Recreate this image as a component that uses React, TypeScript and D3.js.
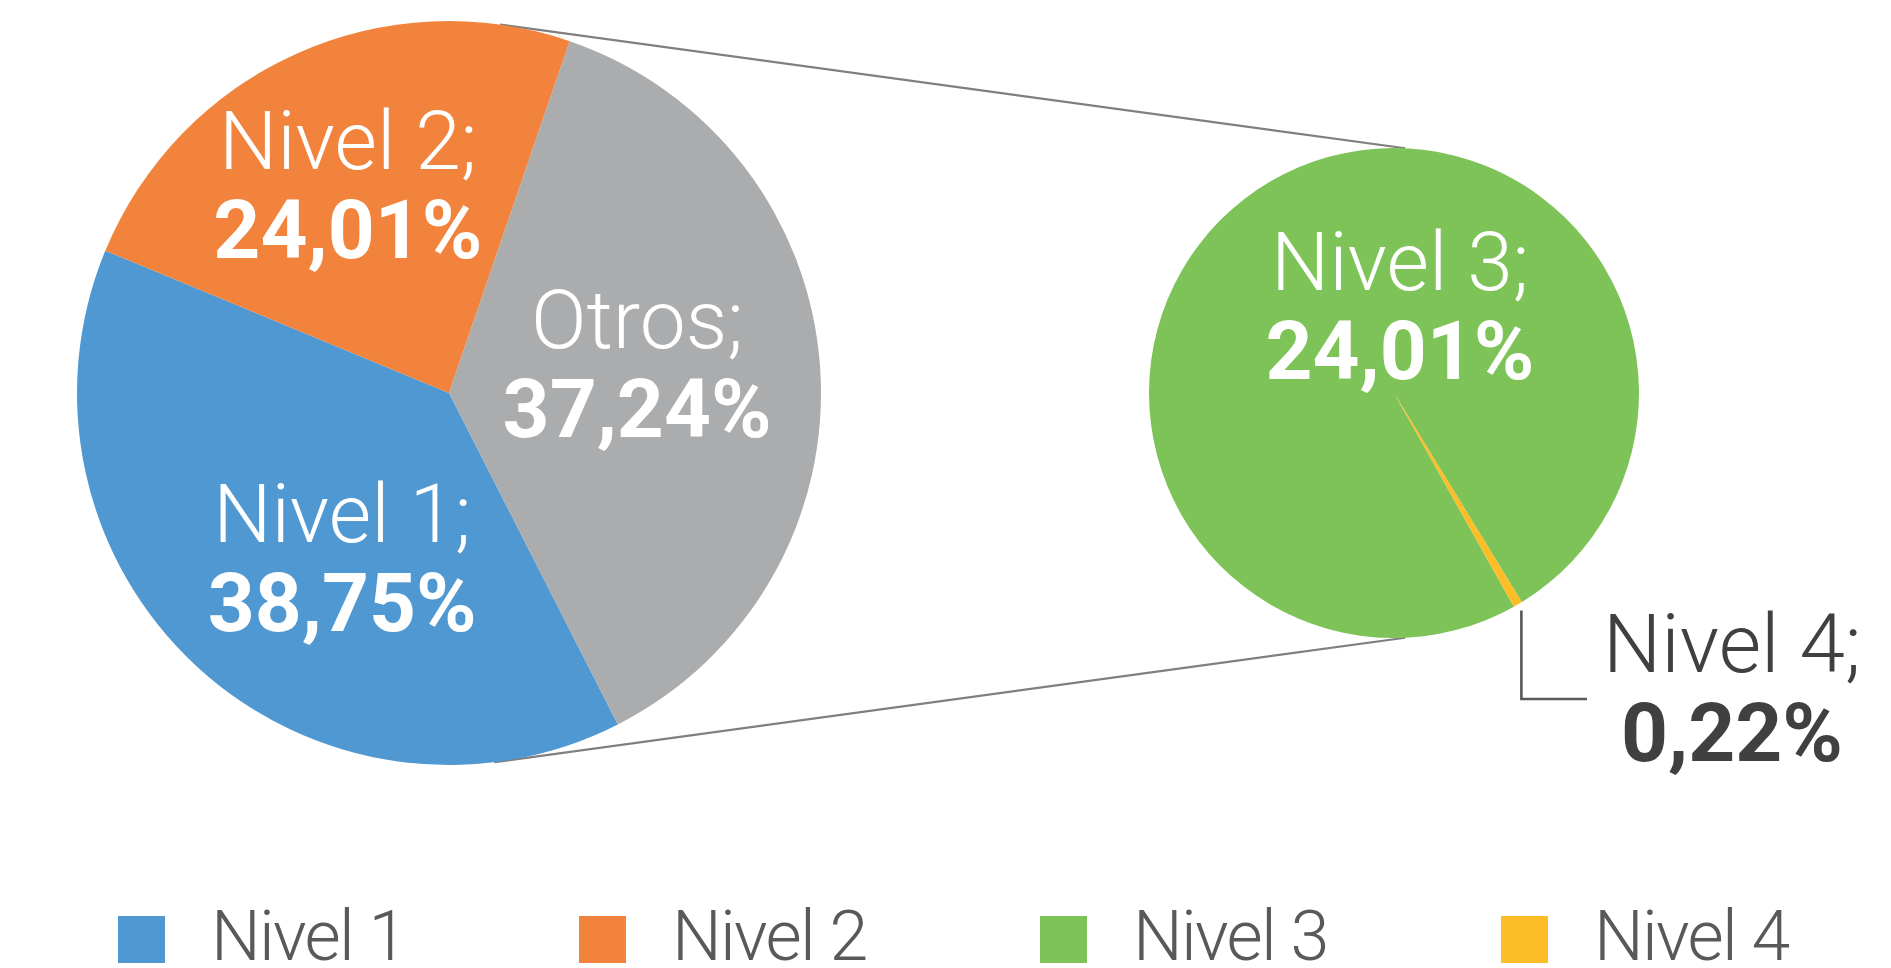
import React from 'react';
import * as d3 from 'd3';

// main pie (left)
const mainNames = ['Nivel 1', 'Nivel 2', 'Otros'];
const mainValues = [38.75, 24.01, 37.24];
const mainLabels = ['38,75%', '24,01%', '37,24%'];

// secondary pie (right) - slice sizes, labels as printed
const subNames = ['Nivel 3', 'Nivel 4'];
const subValues = [37.02, 0.22];
const subLabels = ['24,01%', '0,22%'];

const legendNames = ['Nivel 1', 'Nivel 2', 'Nivel 3', 'Nivel 4'];

const colors: Record<string, string> = {
  'Nivel 1': '#5098d2',
  'Nivel 2': '#f1833c',
  Otros: '#abacad',
  'Nivel 3': '#7dc357',
  'Nivel 4': '#fdbd27',
};

const W = 1891;
const H = 968;
const deg = Math.PI / 180;

const main = { cx: 449, cy: 393, r: 372 };
const sub = { cx: 1394, cy: 393, r: 245 };

// label nudges from the arc centroid
const mainNudge = [[32, 14], [-17, -23], [-16, -16]];
const subNudge = [[74, 28]];

const FONT = 'Roboto, "Noto Sans", sans-serif';

const polar = (c: { cx: number; cy: number }, r: number, a: number) => [
  c.cx + r * Math.sin(a),
  c.cy - r * Math.cos(a),
];

export default function App() {
  const mainPie = d3.pie<number>().sort(null).startAngle(153 * deg).endAngle(513 * deg)(mainValues);
  const subPie = d3.pie<number>().sort(null).startAngle(150.7 * deg).endAngle(510.7 * deg)(subValues);

  const mainArc = d3.arc<d3.PieArcDatum<number>>().innerRadius(0).outerRadius(main.r);
  const mainLabelArc = d3.arc<d3.PieArcDatum<number>>().innerRadius(main.r * 0.55).outerRadius(main.r * 0.55);
  const subArc = d3.arc<d3.PieArcDatum<number>>().innerRadius(0).outerRadius(sub.r);
  const subLabelArc = d3.arc<d3.PieArcDatum<number>>().innerRadius(sub.r * 0.55).outerRadius(sub.r * 0.55);

  // connector lines between the two pies
  const topA = polar(main, main.r, 7.9 * deg);
  const topB = polar(sub, sub.r, 2.6 * deg);
  const botA = polar(main, main.r, 173 * deg);
  const botB = polar(sub, sub.r, 177.4 * deg);

  // leader for Nivel 4
  const n4 = subPie[1];
  const n4Mid = (n4.startAngle + n4.endAngle) / 2;
  const lead = polar(sub, sub.r + 7, n4Mid);
  const n4x = 1732;
  const n4y = 687;

  const legendX = d3.scalePoint<string>().domain(legendNames).range([118, 1501]);

  return (
    <div style={{ position: 'fixed', left: 0, top: 0 }}>
      <svg width={W} height={H} style={{ display: 'block', background: '#fff' }}>
        <line x1={topA[0]} y1={topA[1]} x2={topB[0]} y2={topB[1]} stroke="#7f7f7f" strokeWidth={2.2} />
        <line x1={botA[0]} y1={botA[1]} x2={botB[0]} y2={botB[1]} stroke="#7f7f7f" strokeWidth={2.2} />

        <g transform={`translate(${main.cx},${main.cy})`}>
          {mainPie.map((d, i) => (
            <path key={i} d={mainArc(d) || ''} fill={colors[mainNames[i]]} />
          ))}
        </g>
        <g transform={`translate(${sub.cx},${sub.cy})`}>
          {subPie.map((d, i) => (
            <path key={i} d={subArc(d) || ''} fill={colors[subNames[i]]} />
          ))}
        </g>

        {mainPie.map((d, i) => {
          const [x, y] = mainLabelArc.centroid(d);
          const lx = main.cx + x + mainNudge[i][0];
          const ly = main.cy + y + mainNudge[i][1];
          return (
            <text key={i} x={lx} textAnchor="middle" fill="#fff" fontFamily={FONT} fontSize={82}>
              <tspan x={lx} y={ly - 15} fontWeight={300}>{mainNames[i]};</tspan>
              <tspan x={lx} y={ly + 74} fontWeight={700}>{mainLabels[i]}</tspan>
            </text>
          );
        })}

        {subPie.slice(0, 1).map((d, i) => {
          const [x, y] = subLabelArc.centroid(d);
          const lx = sub.cx + x + subNudge[i][0];
          const ly = sub.cy + y + subNudge[i][1];
          return (
            <text key={i} x={lx} textAnchor="middle" fill="#fff" fontFamily={FONT} fontSize={82}>
              <tspan x={lx} y={ly - 15} fontWeight={300}>{subNames[i]};</tspan>
              <tspan x={lx} y={ly + 74} fontWeight={700}>{subLabels[i]}</tspan>
            </text>
          );
        })}

        <polyline
          points={`${lead[0]},${lead[1]} ${lead[0]},${n4y + 12} ${n4x - 145},${n4y + 12}`}
          fill="none"
          stroke="#595959"
          strokeWidth={2.6}
        />
        <text textAnchor="middle" fill="#404040" fontFamily={FONT} fontSize={82}>
          <tspan x={n4x} y={n4y - 15} fontWeight={300}>{subNames[1]};</tspan>
          <tspan x={n4x} y={n4y + 74} fontWeight={700}>{subLabels[1]}</tspan>
        </text>

        {legendNames.map((name) => (
          <g key={name} transform={`translate(${legendX(name)},0)`}>
            <rect x={0} y={916} width={47} height={47} fill={colors[name]} />
            <text
              x={93}
              y={960}
              fill="#595959"
              fontFamily={FONT}
              fontWeight={300}
              fontSize={70}
              letterSpacing={-1.7}
            >
              {name}
            </text>
          </g>
        ))}
      </svg>
    </div>
  );
}
